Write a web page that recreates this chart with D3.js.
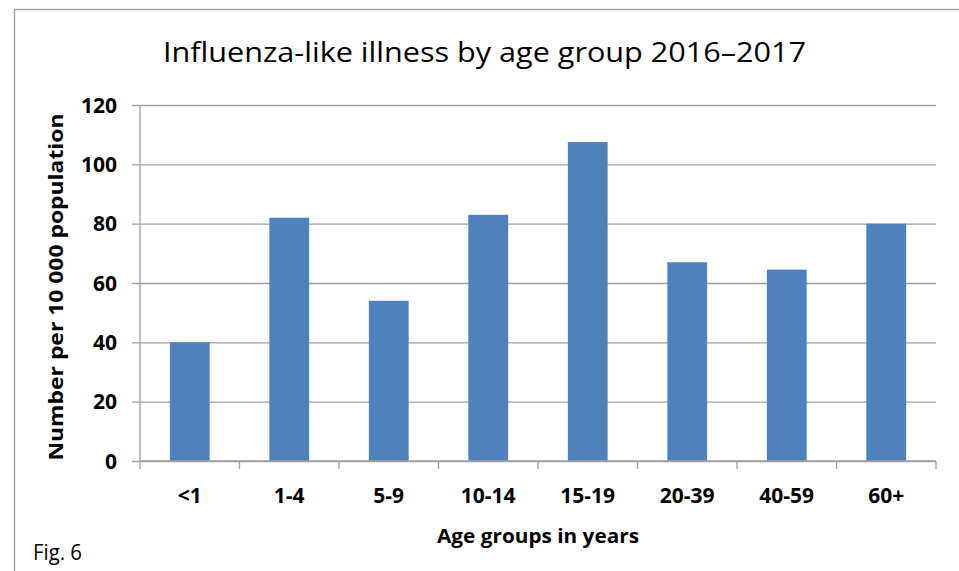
<!DOCTYPE html>
<html>
<head>
<meta charset="utf-8">
<script src="https://cdn.jsdelivr.net/npm/d3@7"></script>
<style>
  html, body { margin: 0; padding: 0; background: #fff; }
  svg { display: block; }
  text { font-family: "Open Sans", "Noto Sans", sans-serif; fill: #000; }
</style>
</head>
<body>
<svg id="chart" width="959" height="571"></svg>
<script>
// Influenza-like illness rates per 10 000 population, by age group
const ageGroups = ["<1", "1-4", "5-9", "10-14", "15-19", "20-39", "40-59", "60+"];
const ratePer10000 = [40, 82, 54, 83, 107.5, 67, 64.5, 80];
const yTicks = [0, 20, 40, 60, 80, 100, 120];

const svg = d3.select("#chart");
const W = 959, H = 571;
const plot = { left: 140, right: 936, top: 105, bottom: 461 };

// Outer frame: left and top edges
svg.append("path")
  .attr("d", `M14.5,${H} L14.5,9.5 L${W},9.5`)
  .attr("fill", "none")
  .attr("stroke", "#a3a3a3")
  .attr("stroke-width", 1.5);

const x = d3.scaleBand()
  .domain(ageGroups)
  .range([plot.left, plot.right])
  .paddingInner(0.6)
  .paddingOuter(0.3);

const y = d3.scaleLinear()
  .domain([0, 120])
  .range([plot.bottom, plot.top]);

// Horizontal gridlines, extended left past the axis as tick marks
const yAxis = d3.axisLeft(y)
  .tickValues(yTicks)
  .tickSize(-(plot.right - plot.left))
  .tickFormat("");
const yg = svg.append("g")
  .attr("transform", `translate(${plot.left},0)`)
  .call(yAxis);
yg.select(".domain").remove();
yg.selectAll(".tick line")
  .attr("x1", -8)
  .attr("stroke", "#a0a0a0")
  .attr("stroke-width", 1.3);

// Y tick labels
svg.append("g").selectAll("text")
  .data(yTicks)
  .join("text")
  .attr("x", 117)
  .attr("y", d => y(d))
  .attr("dy", "0.36em")
  .attr("text-anchor", "end")
  .attr("font-weight", "bold")
  .attr("font-size", 21)
  .text(d => d);

// Y axis line
svg.append("line")
  .attr("x1", plot.left).attr("x2", plot.left)
  .attr("y1", plot.top).attr("y2", plot.bottom)
  .attr("stroke", "#a0a0a0")
  .attr("stroke-width", 1.3);

// Bars
svg.append("g").selectAll("rect")
  .data(ageGroups.map((g, i) => ({ g, v: ratePer10000[i] })))
  .join("rect")
  .attr("x", d => x(d.g))
  .attr("width", x.bandwidth())
  .attr("y", d => y(d.v))
  .attr("height", d => y(0) - y(d.v))
  .attr("fill", "#4f81bd");

// X axis with ticks at category boundaries
const step = x.step();
const boundaries = d3.range(ageGroups.length + 1).map(i => plot.left + i * step);
const xg = svg.append("g");
xg.append("line")
  .attr("x1", plot.left).attr("x2", plot.right)
  .attr("y1", plot.bottom).attr("y2", plot.bottom)
  .attr("stroke", "#a0a0a0")
  .attr("stroke-width", 1.3);
xg.selectAll("line.tk")
  .data(boundaries)
  .join("line")
  .attr("class", "tk")
  .attr("x1", d => d).attr("x2", d => d)
  .attr("y1", plot.bottom).attr("y2", plot.bottom + 8)
  .attr("stroke", "#a0a0a0")
  .attr("stroke-width", 1.3);

// X tick labels
svg.append("g").selectAll("text")
  .data(ageGroups)
  .join("text")
  .attr("x", d => x(d) + x.bandwidth() / 2)
  .attr("y", 503)
  .attr("text-anchor", "middle")
  .attr("font-weight", "bold")
  .attr("font-size", 21)
  .text(d => d);

// Title
svg.append("text")
  .attr("x", 484.5)
  .attr("y", 62)
  .attr("text-anchor", "middle")
  .attr("font-size", 28)
  .attr("textLength", 643)
  .attr("lengthAdjust", "spacingAndGlyphs")
  .attr("fill", "#222")
  .text("Influenza-like illness by age group 2016–2017");

// Axis titles
svg.append("text")
  .attr("transform", "translate(63,287) rotate(-90)")
  .attr("text-anchor", "middle")
  .attr("font-weight", "bold")
  .attr("font-size", 20)
  .attr("textLength", 347)
  .attr("lengthAdjust", "spacingAndGlyphs")
  .text("Number per 10 000 population");

svg.append("text")
  .attr("x", 538)
  .attr("y", 543)
  .attr("text-anchor", "middle")
  .attr("font-weight", "bold")
  .attr("font-size", 20)
  .attr("textLength", 202)
  .attr("lengthAdjust", "spacingAndGlyphs")
  .text("Age groups in years");

// Figure label
svg.append("text")
  .attr("x", 33)
  .attr("y", 560)
  .attr("font-size", 22)
  .attr("textLength", 49)
  .attr("lengthAdjust", "spacingAndGlyphs")
  .text("Fig. 6");
</script>
</body>
</html>
